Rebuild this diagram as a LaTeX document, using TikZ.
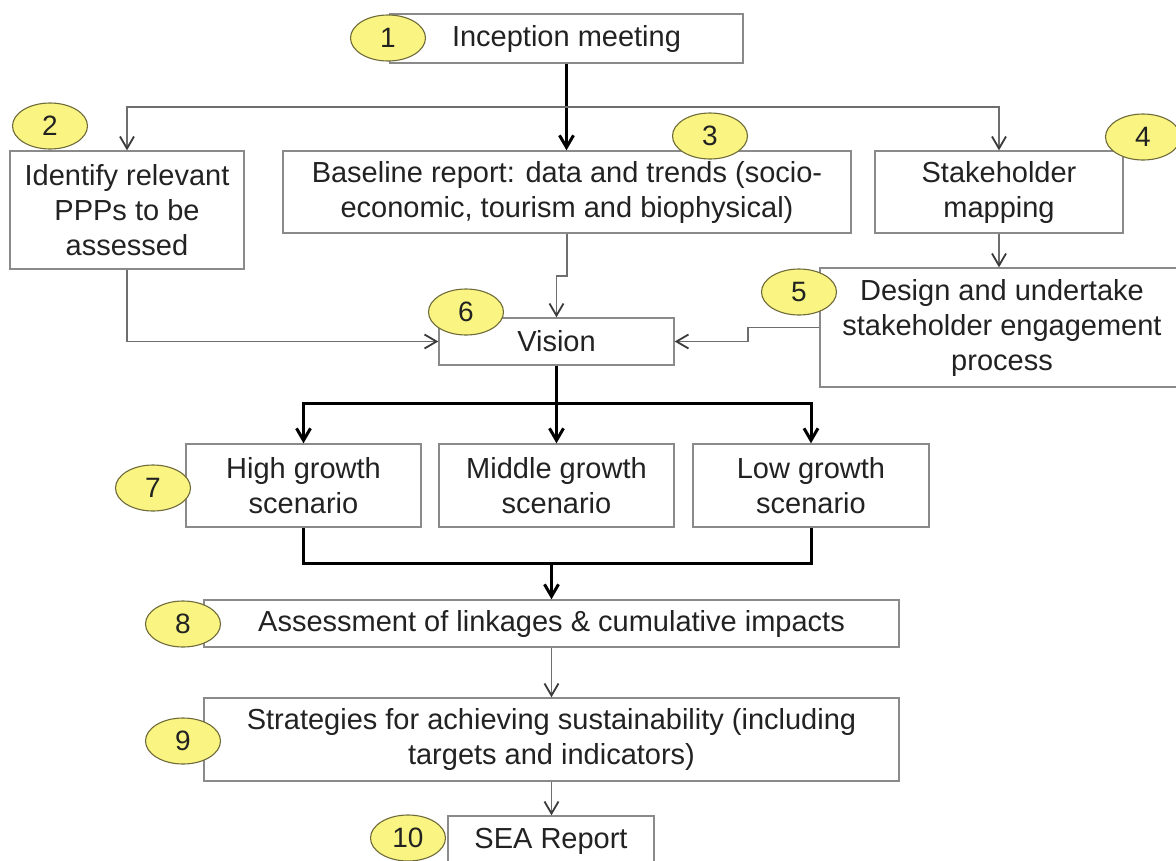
\documentclass[tikz,border=0pt]{standalone}
\usepackage{fontspec}
\setmainfont{Liberation Sans}
\usetikzlibrary{shapes.geometric,arrows.meta}
\definecolor{boxgray}{HTML}{8A8A8A}
\definecolor{linegray}{HTML}{6E6E6E}
\definecolor{tipgray}{HTML}{3A3A3A}
\definecolor{txt}{HTML}{222222}
\definecolor{numfill}{RGB}{250,245,130}
\definecolor{numline}{HTML}{6F6A3A}
\newcommand\boxfont{\fontsize{29}{35}\selectfont}
\newcommand\numfont{\fontsize{28}{32}\selectfont}
\tikzset{
  stepbox/.style={draw=boxgray, line width=1.4pt, fill=white, inner sep=0pt,
    align=center, text=txt, font=\boxfont},
  numbadge/.style={ellipse, draw=numline, line width=1.1pt, fill=numfill,
    minimum width=75pt, minimum height=46pt, inner sep=0pt, text=txt, font=\numfont},
  conn/.style={draw=linegray, line width=1.4pt},
  thickconn/.style={draw=black, line width=3pt},
  tip/.style={-{Straight Barb[length=12pt,width=14pt]}},
  thintip/.style={-{Straight Barb[length=12pt,width=14pt,color=tipgray,line width=1.8pt]}},
}
\begin{document}
\begin{tikzpicture}[x=1pt,y=-1pt]
\useasboundingbox (0,0) rectangle (1176,860);
\fill[white] (0,0) rectangle (1176,860);

% boxes
\node[stepbox, minimum width=353pt, minimum height=49pt] (n1) at (566.5,38.5) {Inception meeting};
\node[stepbox, minimum width=234pt, minimum height=118pt] (n2) at (127,210) {Identify relevant\\PPPs to be\\assessed};
\node[stepbox, minimum width=568pt, minimum height=82pt] (n3) at (567,192) {Baseline report: data and trends (socio-\\economic, tourism and biophysical)};
\node[stepbox, minimum width=248pt, minimum height=82pt] (n4) at (999,192) {Stakeholder\\mapping};
\node[stepbox, minimum width=364pt, minimum height=119pt] (n5) at (1002,327.5) {Design and undertake\\stakeholder engagement\\process};
\node[stepbox, minimum width=235pt, minimum height=47pt] (n6) at (556.5,341.5) {Vision};
\node[stepbox, minimum width=235pt, minimum height=83pt] (n7a) at (303.5,485.5) {High growth\\scenario};
\node[stepbox, minimum width=235pt, minimum height=83pt] (n7b) at (556.5,485.5) {Middle growth\\scenario};
\node[stepbox, minimum width=236pt, minimum height=83pt] (n7c) at (811,485.5) {Low growth\\scenario};
\node[stepbox, minimum width=695pt, minimum height=47pt] (n8) at (551.5,623.5) {Assessment of linkages \& cumulative impacts};
\node[stepbox, minimum width=695pt, minimum height=83pt] (n9) at (551.5,739.5) {Strategies for achieving sustainability (including\\targets and indicators)};
\node[stepbox, minimum width=206pt, minimum height=50pt] (n10) at (551,841) {SEA Report};

% junction points
\coordinate (split1) at (566.5,107);
\coordinate (jog3) at (567,276);
\coordinate (jog5) at (748,341.5);
\coordinate (split6) at (556.5,403);
\coordinate (merge7) at (551.5,563);

% connectors
\draw[thickconn, tip] (n1.south) -- (n1.south |- n3.north);
\draw[conn, thintip] (split1) -| (n2.north);
\draw[conn, thintip] (split1) -| (n4.north);
\draw[conn, thintip] (n3.south) -- (jog3) -| (n6.north);
\draw[conn, thintip] (n2.south) |- (n6.west);
\draw[conn, thintip] (n4.south) -- (n4.south |- n5.north);
\draw[conn, thintip] (n5.west) -| (jog5) -- (n6.east);
\draw[thickconn] (n6.south) -- (split6);
\draw[thickconn, tip] (split6) -| (n7a.north);
\draw[thickconn, tip] (split6) -- (n7b.north);
\draw[thickconn, tip] (split6) -| (n7c.north);
\draw[thickconn] (n7a.south) |- (merge7);
\draw[thickconn] (n7c.south) |- (merge7);
\draw[thickconn, tip] (merge7) -- (n8.north);
\draw[conn, thintip] (n8.south) -- (n9.north);
\draw[conn, thintip] (n9.south) -- (n9.south |- n10.north);

% number badges
\node[numbadge] (b1) at (388,38) {1};
\node[numbadge] (b2) at (50,126) {2};
\node[numbadge] (b3) at (710,136) {3};
\node[numbadge] (b4) at (1143,137) {4};
\node[numbadge] (b5) at (799,292) {5};
\node[numbadge] (b6) at (466,312) {6};
\node[numbadge] (b7) at (153,488) {7};
\node[numbadge] (b8) at (183,624) {8};
\node[numbadge] (b9) at (183,741) {9};
\node[numbadge] (b10) at (408,838) {10};
\end{tikzpicture}
\end{document}
